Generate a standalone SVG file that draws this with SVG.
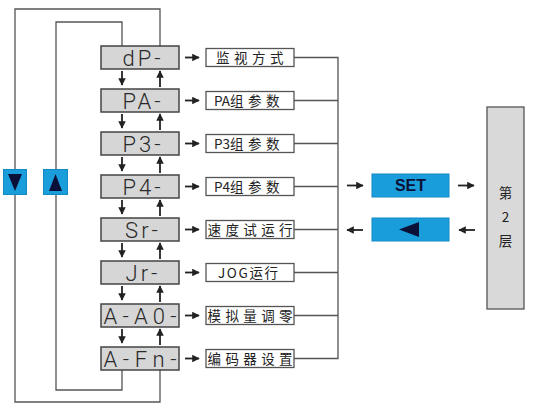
<svg xmlns="http://www.w3.org/2000/svg" width="549" height="418" viewBox="0 0 549 418">
<style>
.disp{fill:#d6d6d6;stroke:#444;stroke-width:1.5}
.dt{font-family:Roboto,"DejaVu Sans",sans-serif;font-size:22px;fill:#2a2a2a;text-anchor:middle;font-weight:300}
.lb{fill:#fff;stroke:#555;stroke-width:1.3}
.lt{font-family:"Noto Sans CJK SC","Liberation Sans",sans-serif;font-size:13.5px;fill:#222}
.mid{text-anchor:middle}
.ln{fill:none;stroke:#555;stroke-width:1.3}
.ar{fill:none;stroke:#222;stroke-width:1.8;marker-end:url(#ah)}
.blue{fill:#1a9ddb;stroke:#1288c4;stroke-width:1}
.navy{fill:#0b1038}
</style>
<defs>
<marker id="ah" viewBox="0 0 10 10" refX="9" refY="5" markerWidth="4.2" markerHeight="4.2" orient="auto" markerUnits="strokeWidth">
<path d="M0,0 L10,5 L0,10 Z" fill="#222"/>
</marker>
</defs>
<g id="connectors">
<polyline class="ln" points="160,46 160,9 15,9 15,402 160,402 160,369"/>
<polyline class="ln" points="122,46 122,22 56,22 56,390 122,390 122,369"/>
<polyline class="ln" points="294,57.5 338,57.5 338,358.5 294,358.5"/>
<line class="ln" x1="294" y1="100.5" x2="338" y2="100.5"/>
<line class="ln" x1="294" y1="143.5" x2="338" y2="143.5"/>
<line class="ln" x1="294" y1="186.5" x2="338" y2="186.5"/>
<line class="ln" x1="294" y1="229.5" x2="338" y2="229.5"/>
<line class="ln" x1="294" y1="272.5" x2="338" y2="272.5"/>
<line class="ln" x1="294" y1="315.5" x2="338" y2="315.5"/>
<line class="ar" x1="185" y1="57.5" x2="199" y2="57.5"/>
<line class="ar" x1="185" y1="100.5" x2="199" y2="100.5"/>
<line class="ar" x1="185" y1="143.5" x2="199" y2="143.5"/>
<line class="ar" x1="185" y1="186.5" x2="199" y2="186.5"/>
<line class="ar" x1="185" y1="229.5" x2="199" y2="229.5"/>
<line class="ar" x1="185" y1="272.5" x2="199" y2="272.5"/>
<line class="ar" x1="185" y1="315.5" x2="199" y2="315.5"/>
<line class="ar" x1="185" y1="358.5" x2="199" y2="358.5"/>
<line class="ar" x1="122" y1="71" x2="122" y2="85"/>
<line class="ar" x1="160" y1="87" x2="160" y2="71"/>
<line class="ar" x1="122" y1="114" x2="122" y2="128"/>
<line class="ar" x1="160" y1="130" x2="160" y2="114"/>
<line class="ar" x1="122" y1="157" x2="122" y2="171"/>
<line class="ar" x1="160" y1="173" x2="160" y2="157"/>
<line class="ar" x1="122" y1="200" x2="122" y2="214"/>
<line class="ar" x1="160" y1="216" x2="160" y2="200"/>
<line class="ar" x1="122" y1="243" x2="122" y2="257"/>
<line class="ar" x1="160" y1="259" x2="160" y2="243"/>
<line class="ar" x1="122" y1="286" x2="122" y2="300"/>
<line class="ar" x1="160" y1="302" x2="160" y2="286"/>
<line class="ar" x1="122" y1="329" x2="122" y2="343"/>
<line class="ar" x1="160" y1="345" x2="160" y2="329"/>
<line class="ar" x1="347" y1="185.5" x2="363" y2="185.5"/>
<line class="ar" x1="458" y1="185.5" x2="474" y2="185.5"/>
<line class="ar" x1="363" y1="230" x2="347" y2="230"/>
<line class="ar" x1="475" y1="230" x2="459" y2="230"/>
</g>
<g id="nav-down">
<rect class="blue" x="3.5" y="169.5" width="23" height="25"/>
<polygon class="navy" points="8,174 22,174 15,191"/>
</g>
<g id="nav-up">
<rect class="blue" x="43.5" y="169.5" width="24" height="25"/>
<polygon class="navy" points="49,191 62,191 55.5,174"/>
</g>
<g id="n-dP"><rect class="disp" x="101" y="46" width="78" height="23"/><text class="dt" x="143" y="65.5" letter-spacing="3">dP-</text></g>
<g id="n-PA"><rect class="disp" x="101" y="89" width="78" height="23"/><text class="dt" x="143" y="108.5" letter-spacing="3">PA-</text></g>
<g id="n-P3"><rect class="disp" x="101" y="132" width="78" height="23"/><text class="dt" x="143" y="151.5" letter-spacing="3">P3-</text></g>
<g id="n-P4"><rect class="disp" x="101" y="175" width="78" height="23"/><text class="dt" x="143" y="194.5" letter-spacing="3">P4-</text></g>
<g id="n-Sr"><rect class="disp" x="101" y="218" width="78" height="23"/><text class="dt" x="143" y="237.5" letter-spacing="3">Sr-</text></g>
<g id="n-Jr"><rect class="disp" x="101" y="261" width="78" height="23"/><text class="dt" x="143" y="280.5" letter-spacing="3">Jr-</text></g>
<g id="n-AA0"><rect class="disp" x="101" y="304" width="78" height="23"/><text class="dt" x="140" y="323.5" textLength="73" lengthAdjust="spacing">A-A0-</text></g>
<g id="n-AFn"><rect class="disp" x="101" y="347" width="78" height="23"/><text class="dt" x="140" y="366.5" textLength="73" lengthAdjust="spacing">A-Fn-</text></g>
<g id="l-1"><rect class="lb" x="206" y="48.5" width="88" height="18"/><text class="lt" x="216" y="62.5" letter-spacing="4.5">监视方式</text></g>
<g id="l-2"><rect class="lb" x="206" y="91.5" width="88" height="18"/><text class="lt" x="214" y="105.5">PA组<tspan dx="4.5">参</tspan><tspan dx="4.5">数</tspan></text></g>
<g id="l-3"><rect class="lb" x="206" y="134.5" width="88" height="18"/><text class="lt" x="214" y="148.5">P3组<tspan dx="4.5">参</tspan><tspan dx="4.5">数</tspan></text></g>
<g id="l-4"><rect class="lb" x="206" y="177.5" width="88" height="18"/><text class="lt" x="214" y="191.5">P4组<tspan dx="4.5">参</tspan><tspan dx="4.5">数</tspan></text></g>
<g id="l-5"><rect class="lb" x="206" y="220.5" width="88" height="18"/><text class="lt mid" x="250" y="235" font-size="15" textLength="85" lengthAdjust="spacing">速度试运行</text></g>
<g id="l-6"><rect class="lb" x="206" y="263.5" width="88" height="18"/><text class="lt mid" x="248" y="277.5" textLength="60" lengthAdjust="spacing">JOG运行</text></g>
<g id="l-7"><rect class="lb" x="206" y="306.5" width="88" height="18"/><text class="lt mid" x="250" y="321" font-size="15" textLength="85" lengthAdjust="spacing">模拟量调零</text></g>
<g id="l-8"><rect class="lb" x="206" y="349.5" width="88" height="18"/><text class="lt mid" x="250" y="364" font-size="15" textLength="85" lengthAdjust="spacing">编码器设置</text></g>
<g id="set"><rect class="blue" x="372" y="174" width="77" height="23"/><text x="410.5" y="191" font-family="Liberation Sans,Arial,sans-serif" font-weight="bold" font-size="16" fill="#0b1038" text-anchor="middle">SET</text></g>
<g id="back"><rect class="blue" x="372" y="218" width="77" height="23"/><polygon class="navy" points="399,229.5 419,222 419,237"/></g>
<g id="layer2"><rect x="487" y="107" width="37" height="202" fill="#d9d9d9" stroke="#555" stroke-width="1.3"/>
<text class="lt mid" x="505.5" y="198" font-size="15" fill="#333">第</text>
<text class="lt mid" x="505.5" y="222" font-size="15" fill="#333">2</text>
<text class="lt mid" x="505.5" y="246" font-size="15" fill="#333">层</text></g>
</svg>
